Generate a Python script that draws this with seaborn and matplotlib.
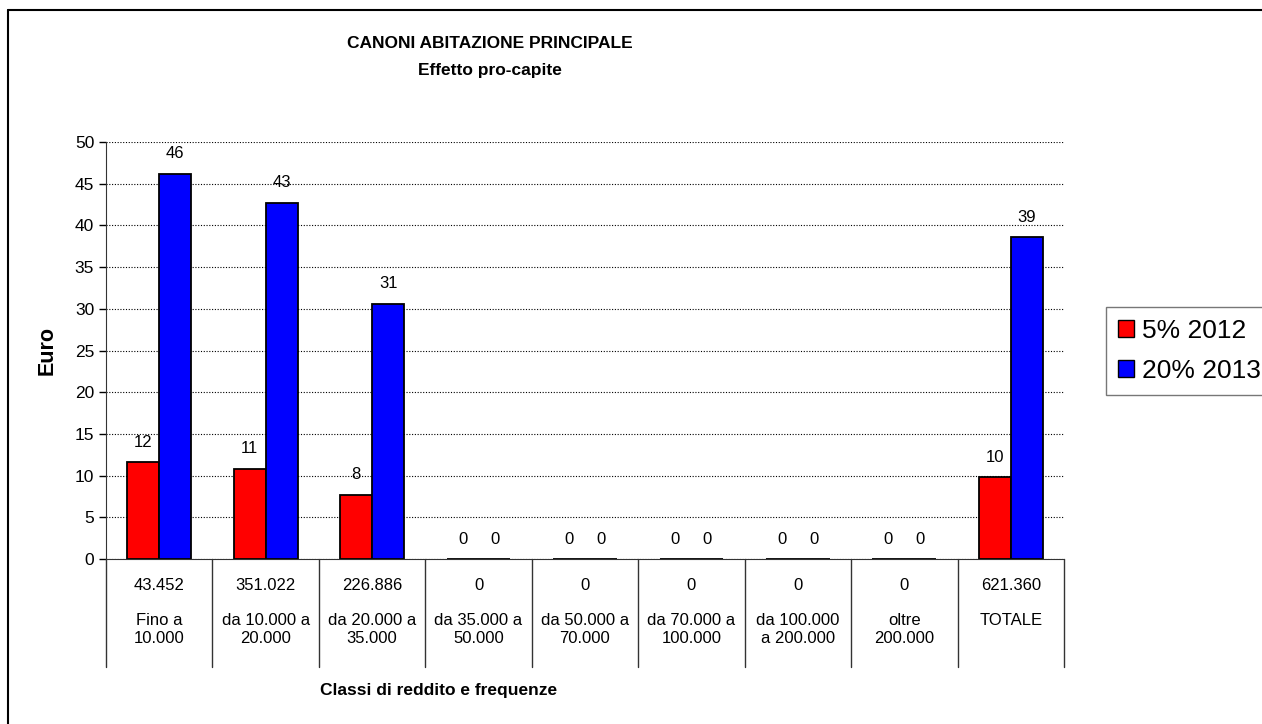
import pandas as pd
import numpy as np
import matplotlib
matplotlib.use("Agg")
import matplotlib.pyplot as plt
import seaborn as sns

# data
classi = ["Fino a\n10.000", "da 10.000 a\n20.000", "da 20.000 a\n35.000",
          "da 35.000 a\n50.000", "da 50.000 a\n70.000", "da 70.000 a\n100.000",
          "da 100.000\na 200.000", "oltre\n200.000", "TOTALE"]
frequenze = ["43.452", "351.022", "226.886", "0", "0", "0", "0", "0", "621.360"]
canone_2012 = [11.6, 10.8, 7.7, 0, 0, 0, 0, 0, 9.8]
canone_2013 = [46.2, 42.7, 30.6, 0, 0, 0, 0, 0, 38.6]
serie = ["5% 2012", "20% 2013"]
colori = ["#FF0000", "#0000FF"]

df = pd.DataFrame({
    "classe": classi * 2,
    "valore": canone_2012 + canone_2013,
    "serie": [serie[0]] * len(classi) + [serie[1]] * len(classi),
})

sns.set_style("white")
plt.rcParams["font.family"] = ["Liberation Sans", "DejaVu Sans"]
plt.rcParams.update({"text.color": "black", "axes.labelcolor": "black",
                     "xtick.color": "black", "ytick.color": "black"})

fig = plt.figure(figsize=(12.62, 7.24), dpi=100)
ax = fig.add_axes([106 / 1262, 1 - 559 / 724, (1064 - 106) / 1262, (559 - 142) / 724])

sns.barplot(data=df, x="classe", y="valore", hue="serie", palette=colori,
            saturation=1, width=0.6, edgecolor="black", linewidth=1.3,
            ax=ax, legend=False)

for cont in ax.containers:
    ax.bar_label(cont, fmt="%.0f", padding=9, fontsize=12)

# axes styling (Excel look)
ax.set_ylim(0, 50)
ax.set_xlim(-0.5, len(classi) - 0.5)
ax.set_yticks(np.arange(0, 51, 5))
ax.yaxis.grid(True, linestyle=(0, (1, 1.5)), color="black", linewidth=0.8)
ax.set_axisbelow(True)
for s in ["top", "right"]:
    ax.spines[s].set_visible(False)
ax.spines["left"].set_color("#333333")
ax.spines["bottom"].set_color("#333333")
ax.tick_params(axis="y", direction="out", length=5, width=1, labelsize=12.5, left=True)
ax.tick_params(axis="x", length=0)
ax.set_xticks(range(len(classi)))
ax.set_xticklabels([f"{f}\n\n{c}" for f, c in zip(frequenze, classi)],
                   fontsize=12, linespacing=1.2, va="top")
ax.tick_params(axis="x", pad=14)
ax.set_xlabel("")
ax.set_ylabel("Euro", fontsize=15.5, fontweight="bold", labelpad=12)

# category separator lines of the data table under the axis
for xb in np.arange(-0.5, len(classi), 1.0):
    ax.plot([xb, xb], [0, -0.26], color="#333333", linewidth=1,
            transform=ax.get_xaxis_transform(), clip_on=False)

# titles
fig.text(490 / 1262, 1 - 43 / 724, "CANONI ABITAZIONE PRINCIPALE",
         ha="center", va="center", fontsize=12.5, fontweight="bold")
fig.text(490 / 1262, 1 - 71 / 724, "Effetto pro-capite",
         ha="center", va="center", fontsize=12.5, fontweight="bold")
fig.text(439 / 1262, 1 - 690 / 724, "Classi di reddito e frequenze",
         ha="center", va="center", fontsize=12.5, fontweight="bold")

# legend
handles = [plt.Rectangle((0, 0), 1, 1, facecolor=c, edgecolor="black", linewidth=1)
           for c in colori]
leg = fig.legend(handles, serie, loc="upper left",
                 bbox_to_anchor=(1106 / 1262, 1 - 307 / 724),
                 fontsize=19, frameon=True, fancybox=False, borderpad=0.45,
                 handlelength=0.6, handleheight=0.6, handletextpad=0.3,
                 labelspacing=0.6, borderaxespad=0)
leg.get_frame().set_edgecolor("#555555")
leg.get_frame().set_linewidth(1)

# chart area border (left and top edges visible)
fig.add_artist(plt.Line2D([8 / 1262, 8 / 1262], [0, 1 - 10 / 724],
                          color="black", linewidth=1.5, transform=fig.transFigure))
fig.add_artist(plt.Line2D([8 / 1262, 1], [1 - 10 / 724, 1 - 10 / 724],
                          color="black", linewidth=1.5, transform=fig.transFigure))

fig.savefig("out.png", dpi=100)
